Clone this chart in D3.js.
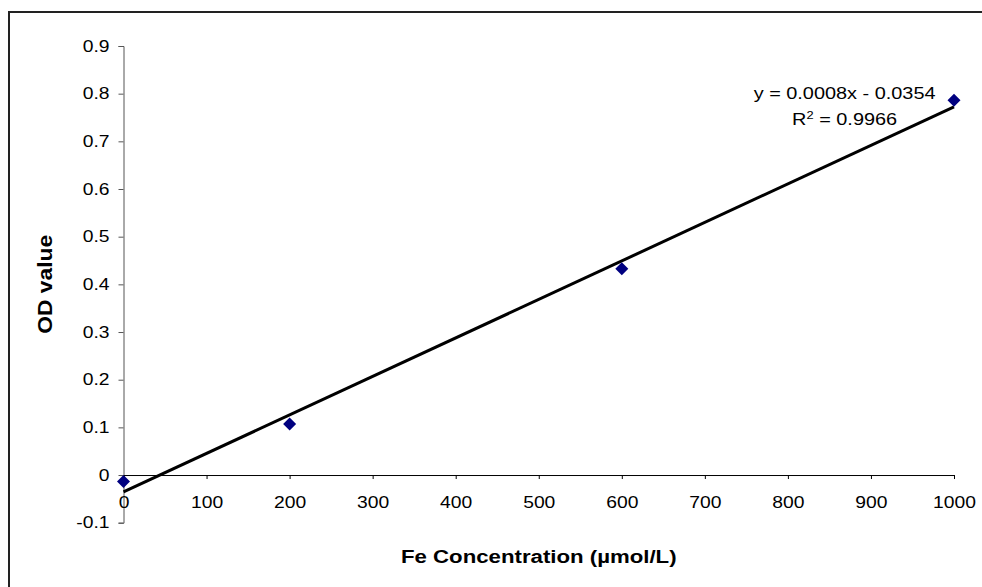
<!DOCTYPE html>
<html>
<head>
<meta charset="utf-8">
<script src="https://cdn.jsdelivr.net/npm/d3@7"></script>
<style>
  html, body { margin: 0; padding: 0; background: #fff; overflow: hidden; }
  svg { display: block; }
  text { font-family: "Liberation Sans", Arial, sans-serif; fill: #000; }
</style>
</head>
<body>
<svg id="chart" width="982" height="587"></svg>
<script>
// Standard curve: Fe concentration (µmol/L) against measured OD
const concentrations = [0, 200, 600, 1000];
const odValues = [-0.0135, 0.107, 0.4327, 0.786];

const xTickValues = [0, 100, 200, 300, 400, 500, 600, 700, 800, 900, 1000];
const yTickValues = [-0.1, 0, 0.1, 0.2, 0.3, 0.4, 0.5, 0.6, 0.7, 0.8, 0.9];

const xTitle = "Fe Concentration (µmol/L)";
const yTitle = "OD value";

// horizontal widening applied to all text
const SX = 1.17;

const svg = d3.select("#chart");

// outer frame: left and top edges of the chart border
const frame = svg.append("g").attr("stroke", "#222").attr("stroke-width", 2);
frame.append("line").attr("x1", 9).attr("y1", 12).attr("x2", 9).attr("y2", 587);
frame.append("line").attr("x1", 8).attr("y1", 12).attr("x2", 982).attr("y2", 12);

const x = d3.scaleLinear().domain([0, 1000]).range([123.5, 954]);
const y = d3.scaleLinear().domain([-0.1, 0.9]).range([522.7, 46]);

function widen(sel) {
  sel.each(function () {
    const t = d3.select(this);
    const px = +t.attr("x") || 0;
    t.attr("x", px / SX).attr("transform", `scale(${SX},1)`);
  });
}

// y axis
const yAxis = svg.append("g")
  .attr("transform", `translate(${x(0)},0)`)
  .call(d3.axisLeft(y).tickValues(yTickValues).tickSize(5).tickPadding(9)
    .tickFormat(d => String(+d.toFixed(1))));
yAxis.select(".domain").attr("stroke", "#555");
yAxis.selectAll(".tick line").attr("stroke", "#555");
yAxis.selectAll("text").attr("font-size", 16.5).attr("font-family", null);
widen(yAxis.selectAll("text"));

// x axis sits on OD = 0
const xAxis = svg.append("g")
  .attr("transform", `translate(0,${y(0)})`)
  .call(d3.axisBottom(x).tickValues(xTickValues).tickSize(4).tickPadding(17)
    .tickFormat(d => String(d)));
xAxis.select(".domain").attr("stroke", "#000");
xAxis.selectAll(".tick line").attr("stroke", "#000");
xAxis.selectAll("text").attr("font-size", 16.5).attr("font-family", null);
widen(xAxis.selectAll("text"));

// least-squares fit
const n = concentrations.length;
const mx = d3.mean(concentrations), my = d3.mean(odValues);
let sxy = 0, sxx = 0, syy = 0;
for (let i = 0; i < n; i++) {
  const dx = concentrations[i] - mx, dy = odValues[i] - my;
  sxy += dx * dy; sxx += dx * dx; syy += dy * dy;
}
const slope = sxy / sxx;
const intercept = my - slope * mx;
const r2 = (sxy * sxy) / (sxx * syy);

// trendline
const xDomain = x.domain();
svg.append("line")
  .attr("x1", x(xDomain[0])).attr("y1", y(slope * xDomain[0] + intercept))
  .attr("x2", x(xDomain[1])).attr("y2", y(slope * xDomain[1] + intercept))
  .attr("stroke", "#000").attr("stroke-width", 3);

// diamond markers
svg.append("g").selectAll("path")
  .data(concentrations.map((c, i) => [c, odValues[i]]))
  .join("path")
  .attr("transform", d => `translate(${x(d[0])},${y(d[1])})`)
  .attr("d", "M0,-6.5L6.5,0L0,6.5L-6.5,0Z")
  .attr("fill", "#000080");

// equation label
svg.append("text")
  .attr("font-size", 17).attr("text-anchor", "middle")
  .attr("transform", `translate(844.6,99) scale(${SX},1)`)
  .text(`y = ${slope.toFixed(4)}x ${intercept < 0 ? "-" : "+"} ${Math.abs(intercept).toFixed(4)}`);

const r2t = svg.append("text")
  .attr("font-size", 17).attr("text-anchor", "middle")
  .attr("transform", `translate(844.6,124.5) scale(${SX},1)`);
r2t.append("tspan").text("R");
r2t.append("tspan").attr("font-size", 11).attr("dy", -6).text("2");
r2t.append("tspan").attr("dy", 6).text(` = ${r2.toFixed(4)}`);

// axis titles
svg.append("text")
  .attr("font-size", 19).attr("font-weight", "bold").attr("text-anchor", "middle")
  .attr("transform", `translate(${(x.range()[0] + x.range()[1]) / 2},563) scale(${SX},1)`)
  .text(xTitle);

svg.append("text")
  .attr("font-size", 19.5).attr("font-weight", "bold").attr("text-anchor", "middle")
  .attr("transform", `translate(52,${(y.range()[0] + y.range()[1]) / 2}) rotate(-90) scale(${SX},1)`)
  .text(yTitle);
</script>
</body>
</html>
